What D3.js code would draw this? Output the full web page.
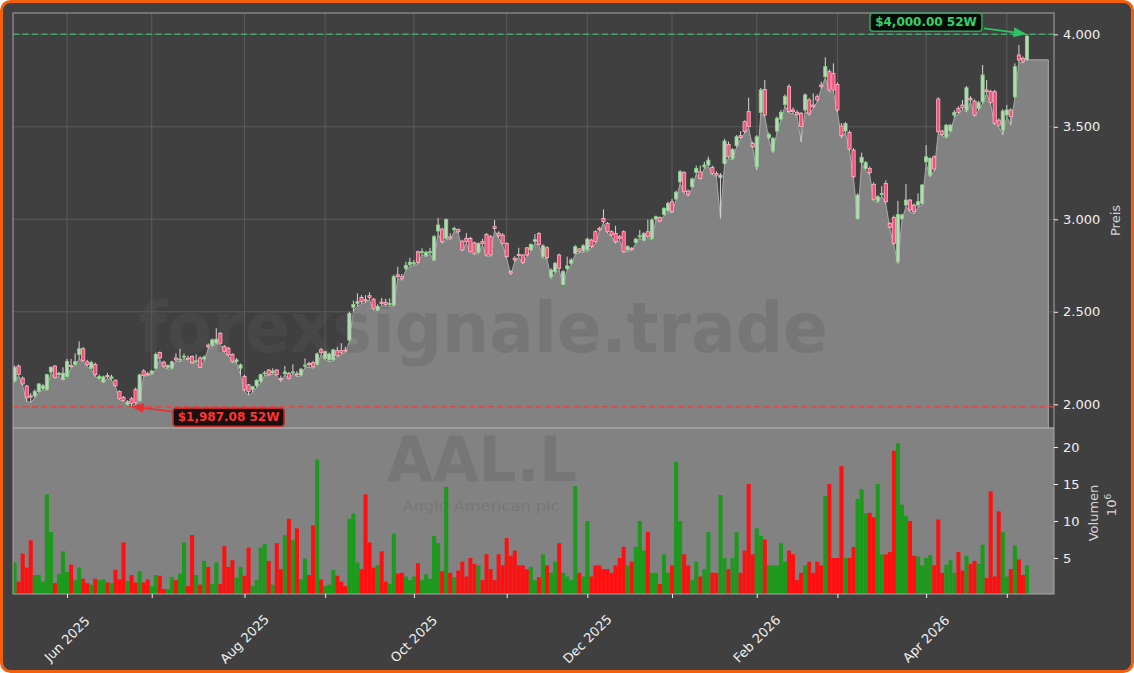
<!DOCTYPE html>
<html><head><meta charset="utf-8">
<script src="https://cdn.jsdelivr.net/npm/d3@7"></script>
<style>html,body{margin:0;padding:0;background:#ffffff;}svg{display:block;}</style>
</head><body>
<svg id="chart" width="1134" height="673"></svg>
<script>
// ---------- DATA ----------
const startDate = "2025-05-13";
const holidays = ["2025-05-26","2025-08-25","2025-12-25","2025-12-26","2026-01-01","2026-04-03","2026-04-06","2026-05-04"];
const opens = [2126,2207,2141,2099,2045,2045,2070,2085,2080,2175,2207,2160,2135,2150,2210,2215,2270,2300,2230,2195,
2215,2140,2120,2155,2140,2130,2069,2038,2000,2030,2080,2018,2180,2165,2165,2195,2280,2228,2200,2195,
2250,2240,2255,2250,2258,2230,2250,2245,2320,2318,2330,2384,2312,2303,2270,2230,2195,2150,2105,2080,
2100,2125,2165,2185,2170,2185,2140,2165,2167,2170,2165,2158,2208,2220,2225,2216,2295,2248,2240,2240,
2290,2290,2293,2347,2525,2545,2578,2565,2587,2568,2510,2552,2550,2540,2536,2700,2690,2735,2755,2760,
2825,2820,2803,2820,2780,2937,2947,2897,2905,2943,2945,2882,2897,2897,2873,2821,2880,2918,2906,2960,
2925,2915,2870,2717,2790,2810,2807,2846,2834,2880,2924,2798,2846,2690,2717,2807,2648,2735,2762,2816,
2840,2829,2834,2888,2933,2951,3005,2978,2933,2924,2906,2933,2834,2843,2875,2906,2888,2933,2897,3001,
3010,3027,3045,3095,3110,3203,3252,3153,3176,3254,3257,3284,3293,3281,3248,3225,3302,3405,3329,3398,
3452,3528,3582,3410,3284,3578,3702,3441,3369,3477,3542,3621,3717,3591,3578,3573,3591,3645,3618,3663,
3726,3771,3798,3789,3729,3504,3477,3470,3374,3005,3308,3275,3275,3189,3099,3135,3194,2978,3010,2771,
3005,3077,3104,3077,3077,3086,3311,3239,3338,3650,3477,3446,3477,3563,3600,3618,3591,3654,3639,3600,
3636,3699,3690,3690,3536,3482,3564,3591,3663,3888,3870,3862];
const highs = [2210,2215,2150,2105,2060,2080,2115,2110,2165,2205,2212,2175,2200,2245,2245,2275,2340,2310,2240,2235,
2225,2160,2155,2170,2160,2135,2075,2045,2022,2040,2090,2165,2190,2175,2185,2280,2285,2235,2215,2235,
2275,2300,2275,2265,2265,2270,2260,2265,2330,2355,2411,2390,2320,2310,2275,2250,2220,2160,2110,2100,
2135,2165,2180,2190,2195,2190,2155,2207,2175,2216,2180,2195,2248,2230,2235,2280,2305,2290,2280,2300,
2310,2330,2310,2500,2560,2600,2590,2590,2605,2575,2540,2575,2570,2573,2700,2743,2705,2770,2792,2780,
2830,2843,2830,2846,2915,3008,2955,3005,2925,2960,2950,2890,2925,2905,2880,2875,2895,2925,2915,2996,
2935,2925,2875,2725,2800,2846,2812,2850,2870,2920,2930,2865,2855,2735,2770,2815,2725,2798,2790,2860,
2845,2865,2900,2895,2940,2960,3054,2985,2940,2965,2915,2940,2860,2850,2900,2942,2930,2999,3005,3020,
3015,3065,3095,3110,3155,3265,3260,3160,3225,3290,3290,3311,3338,3290,3260,3250,3435,3420,3385,3455,
3477,3535,3657,3420,3455,3710,3753,3470,3445,3555,3590,3675,3730,3605,3590,3580,3681,3655,3681,3675,
3744,3875,3810,3843,3740,3520,3525,3480,3385,3140,3360,3315,3285,3200,3130,3180,3210,2985,3020,3100,
3030,3190,3110,3085,3140,3190,3401,3335,3345,3660,3485,3515,3515,3590,3610,3645,3720,3665,3648,3640,
3834,3753,3700,3700,3545,3595,3618,3600,3843,3942,3880,4000];
const lows = [2120,2155,2100,2015,2010,2035,2065,2078,2075,2170,2140,2150,2130,2145,2195,2210,2245,2230,2205,2190,
2150,2135,2115,2140,2130,2095,2025,2015,1995,1987.08,2000,2015,2150,2155,2160,2190,2240,2200,2190,2190,
2235,2230,2245,2240,2220,2225,2195,2235,2300,2312,2325,2325,2280,2262,2225,2225,2160,2070,2050,2065,
2090,2115,2155,2155,2165,2155,2122,2160,2135,2165,2150,2152,2200,2200,2195,2210,2270,2240,2230,2235,
2255,2270,2280,2340,2505,2530,2545,2550,2565,2510,2505,2535,2530,2530,2530,2680,2670,2725,2745,2750,
2760,2810,2798,2815,2775,2925,2870,2890,2890,2935,2925,2828,2870,2820,2810,2815,2860,2800,2800,2940,
2900,2860,2790,2700,2770,2795,2760,2800,2828,2870,2860,2790,2785,2680,2710,2725,2645,2725,2755,2810,
2820,2822,2828,2845,2870,2935,2980,2925,2908,2870,2888,2820,2828,2830,2870,2900,2882,2900,2890,2995,
2985,3020,3040,3035,3105,3195,3140,3125,3170,3245,3215,3275,3285,3240,3230,3005,3295,3330,3320,3390,
3435,3465,3495,3385,3266,3570,3555,3430,3360,3470,3535,3612,3575,3570,3555,3419,3585,3560,3600,3635,
3705,3765,3690,3690,3580,3440,3470,3370,3220,2998,3300,3265,3240,3100,3090,3125,3085,2950,2860,2762,
2995,3070,3040,3030,3065,3080,3300,3230,3262,3465,3450,3440,3470,3550,3570,3595,3580,3635,3555,3590,
3625,3680,3620,3510,3500,3455,3555,3509,3655,3850,3845,3862];
const closes = [2200,2162,2110,2035,2040,2070,2110,2100,2160,2200,2146,2168,2168,2232,2205,2230,2300,2235,2215,2225,
2160,2150,2148,2150,2148,2100,2030,2020,2015,2005,2010,2159,2155,2160,2180,2270,2250,2205,2210,2230,
2240,2245,2260,2245,2225,2235,2200,2255,2310,2348,2352,2330,2285,2267,2231,2240,2213,2078,2069,2095,
2130,2160,2170,2160,2180,2160,2135,2175,2140,2175,2160,2190,2212,2215,2203,2272,2280,2284,2272,2294,
2262,2280,2290,2491,2540,2555,2555,2560,2577,2518,2530,2545,2540,2545,2690,2690,2680,2750,2768,2765,
2767,2825,2822,2825,2906,2969,2879,2999,2898,2951,2933,2834,2880,2825,2816,2870,2870,2807,2807,2951,
2910,2870,2798,2710,2780,2805,2767,2807,2864,2890,2864,2857,2792,2726,2762,2735,2717,2748,2780,2852,
2826,2857,2893,2852,2879,2942,2987,2933,2915,2879,2897,2825,2852,2836,2893,2911,2924,2906,2996,3014,
2991,3059,3086,3041,3146,3257,3149,3135,3218,3275,3221,3293,3320,3248,3239,3239,3423,3338,3378,3446,
3442,3474,3501,3392,3446,3699,3564,3459,3437,3546,3578,3663,3582,3582,3566,3501,3672,3573,3609,3645,
3717,3825,3699,3699,3591,3452,3517,3380,3230,3131,3335,3306,3252,3108,3122,3140,3095,2956,2870,3026,
3023,3104,3050,3041,3095,3185,3338,3329,3272,3473,3459,3509,3509,3578,3578,3603,3711,3645,3563,3630,
3780,3690,3632,3518,3509,3585,3591,3555,3825,3861,3855,3990];
const volumes = [4.4,1.8,5.6,3.7,7.4,2.7,2.7,1.8,13.6,8.5,1.6,2.8,5.9,3.1,4.1,2.0,3.7,2.2,1.6,1.4,
2.2,2.0,2.1,1.7,1.6,3.4,2.1,7.1,1.9,2.7,1.7,3.2,1.7,2.1,1.2,2.7,2.6,0.8,0.8,2.4,
2.0,2.9,7.1,1.2,8.1,2.7,1.4,4.6,3.8,1.5,4.4,1.5,6.6,3.8,4.7,2.3,3.8,2.6,6.4,1.2,
2.0,6.4,6.9,4.6,1.4,7.0,3.5,8.1,10.3,7.4,9.0,2.1,4.9,2.7,9.4,18.3,2.1,1.2,1.4,3.4,
2.6,1.8,1.2,10.3,11.0,4.4,3.5,13.6,7.1,3.7,4.0,5.9,1.8,1.5,8.3,2.9,3.0,2.5,2.0,2.5,
4.3,2.0,2.8,2.2,8.0,7.0,3.2,14.6,3.0,2.4,3.3,4.5,2.5,5.0,4.2,4.0,2.0,5.5,3.5,2.0,
5.5,4.0,7.7,5.3,6.0,4.0,4.0,3.5,3.8,2.0,2.4,5.5,4.0,3.0,4.5,7.0,3.0,2.5,2.0,14.7,
3.0,2.5,10.0,2.5,4.0,4.0,3.5,3.5,3.0,4.0,5.0,6.5,4.0,4.5,6.5,10.0,6.0,8.5,3.0,3.0,
1.5,5.5,3.0,4.0,18.0,10.0,5.5,4.0,2.0,4.5,2.5,3.5,8.5,3.0,3.0,13.5,5.0,3.5,5.0,8.5,
3.0,6.0,15.0,5.5,9.0,8.0,7.5,4.0,4.0,4.0,7.0,4.5,6.0,5.5,2.0,3.0,4.0,4.5,3.0,4.5,
4.0,13.4,15.0,5.0,5.0,17.4,5.0,5.0,6.5,13.0,14.3,11.0,11.1,10.5,15.0,5.5,5.5,5.8,19.5,20.5,
12.2,10.7,10.0,5.3,5.2,4.0,5.0,5.4,4.0,10.2,3.0,4.1,4.7,3.0,5.8,3.3,5.3,4.2,4.6,4.2,
6.8,2.3,14.0,2.5,11.3,8.5,2.5,3.5,6.7,4.8,2.7,4.0];
const priceTicks = [2000, 2500, 3000, 3500, 4000];
const volumeTicks = [5, 10, 15, 20];
const high52 = 4000.00, low52 = 1987.08;
const high52Index = 251, low52Index = 29;
const ticker = "AAL.L", company = "Anglo American plc", brand = "forexsignale.trade";
const priceLabel = "Preis", volumeLabel = "Volumen", volumeUnit = "10";

// ---------- LAYOUT ----------
const W = 1134, H = 673;
const L = 13, R = 1054, PT = 13, PB = 428, VB = 594;
const svg = d3.select("#chart");
const BG = "#404040", FILLG = "#828282";

// trading calendar
const hol = new Set(holidays);
const parse = d3.utcParse("%Y-%m-%d"), fmtD = d3.utcFormat("%Y-%m-%d");
const dates = [];
let d = parse(startDate);
while (dates.length < closes.length) {
  const wd = d.getUTCDay();
  if (wd !== 0 && wd !== 6 && !hol.has(fmtD(d))) dates.push(new Date(d));
  d = d3.utcDay.offset(d, 1);
}
const data = closes.map((c, i) => ({i, date: dates[i], o: opens[i], h: highs[i], l: lows[i], c, v: volumes[i]}));

const x = d3.scaleLinear().domain([-0.4, 257.7]).range([L, R]);
const y = d3.scaleLinear().domain([2000, 4000]).range([404.3, 34.3]);
const yv = d3.scaleLinear().domain([0, 20]).range([595, 447]);

// month ticks
const monthTicks = [];
for (let i = 1; i < dates.length; i++) if (dates[i].getUTCMonth() !== dates[i-1].getUTCMonth()) monthTicks.push(i);

// background + frame
svg.append("rect").attr("x",1.5).attr("y",1.5).attr("width",W-3).attr("height",H-3).attr("rx",9)
  .attr("fill",BG).attr("stroke","#f2600e").attr("stroke-width",3);

const defs = svg.append("defs");
defs.append("clipPath").attr("id","cp").append("rect").attr("x",L).attr("y",PT).attr("width",R-L).attr("height",PB-PT);
defs.append("clipPath").attr("id","cv").append("rect").attr("x",L).attr("y",PB).attr("width",R-L).attr("height",VB-PB);
function marker(id, col){
  defs.append("marker").attr("id",id).attr("viewBox","0 0 10 10").attr("refX",9).attr("refY",5)
    .attr("markerWidth",7).attr("markerHeight",7).attr("orient","auto-start-reverse")
    .append("path").attr("d","M0,1 L10,5 L0,9 z").attr("fill",col);
}
marker("ag","#2fc463"); marker("ar","#e63232");

// grid (price panel)
const gp = svg.append("g").attr("clip-path","url(#cp)");
gp.selectAll(".vg").data(monthTicks).join("line").attr("x1",i=>x(i)).attr("x2",i=>x(i))
  .attr("y1",PT).attr("y2",PB).attr("stroke","#5e5e5e").attr("stroke-width",0.9);
gp.selectAll(".hg").data(priceTicks).join("line").attr("x1",L).attr("x2",R)
  .attr("y1",v=>y(v)).attr("y2",v=>y(v)).attr("stroke","#5e5e5e").attr("stroke-width",0.9);

// filled low area
const fillPts = [{i:-0.4, l: lows[0]}].concat(data.map(p=>({i:p.i,l:p.l}))).concat([{i:256.3, l: lows[lows.length-1]}]);
const area = d3.area().x(p=>x(p.i)).y0(PB).y1(p=>y(p.l));
gp.append("path").datum(fillPts).attr("d",area).attr("fill",FILLG);
gp.append("path").datum(fillPts).attr("d",d3.line().x(p=>x(p.i)).y(p=>y(p.l))).attr("fill","none").attr("stroke","#a9a9a9").attr("stroke-width",1);
gp.append("line").attr("x1",x(256.3)).attr("x2",x(256.3)).attr("y1",y(lows[lows.length-1])).attr("y2",PB).attr("stroke","#a9a9a9").attr("stroke-width",1);

// volume panel background
svg.append("rect").attr("x",L).attr("y",PB).attr("width",R-L).attr("height",VB-PB).attr("fill",FILLG);

// watermarks
const wmFill = "rgba(88,88,88,0.28)";
svg.append("text").attr("x",483).attr("y",352).attr("text-anchor","middle")
  .attr("font-family","DejaVu Sans").attr("font-weight","bold").attr("font-size",70)
  .attr("textLength",690).attr("lengthAdjust","spacingAndGlyphs").attr("fill",wmFill).text(brand);
svg.append("text").attr("x",482).attr("y",481).attr("text-anchor","middle")
  .attr("font-family","DejaVu Sans").attr("font-weight","bold").attr("font-size",62)
  .attr("textLength",190).attr("lengthAdjust","spacingAndGlyphs").attr("fill",wmFill).text(ticker);
svg.append("text").attr("x",481).attr("y",511).attr("text-anchor","middle")
  .attr("font-family","DejaVu Sans").attr("font-size",14)
  .attr("textLength",157).attr("lengthAdjust","spacingAndGlyphs").attr("fill",wmFill).text(company);

// candles
const gc = svg.append("g").attr("clip-path","url(#cp)");
gc.selectAll(".wick").data(data).join("line").attr("x1",p=>x(p.i)).attr("x2",p=>x(p.i))
  .attr("y1",p=>y(p.h)).attr("y2",p=>y(p.l)).attr("stroke","#d6d6d6").attr("stroke-width",1);
gc.selectAll(".body").data(data).join("rect")
  .attr("x",p=>x(p.i)-1.6).attr("width",3.2)
  .attr("y",p=>y(Math.max(p.o,p.c))).attr("height",p=>Math.max(1,Math.abs(y(p.o)-y(p.c))))
  .attr("fill",p=>p.c>=p.o?"#c4cfc4":"#f0527a")
  .attr("stroke",p=>p.c>=p.o?"#80d880":"#ffb6c6").attr("stroke-width",0.8);

// 52w lines
svg.append("line").attr("x1",L).attr("x2",R).attr("y1",y(high52)).attr("y2",y(high52))
  .attr("stroke","#3cb36c").attr("stroke-width",1.4).attr("stroke-dasharray","6,3.5").attr("opacity",0.9);
svg.append("line").attr("x1",L).attr("x2",R).attr("y1",y(low52)).attr("y2",y(low52))
  .attr("stroke","#e04444").attr("stroke-width",1.4).attr("stroke-dasharray","6,3.5").attr("opacity",0.9);

// volume bars
const gv = svg.append("g").attr("clip-path","url(#cv)");
gv.selectAll(".vb").data(data).join("rect").attr("x",p=>x(p.i)-2).attr("width",4.03)
  .attr("y",p=>yv(p.v)).attr("height",p=>yv(0)-yv(p.v))
  .attr("fill",p=>p.c>=p.o?"#1c9a1c":"#ff1010");

// spines
svg.append("rect").attr("x",L).attr("y",PT).attr("width",R-L).attr("height",VB-PT).attr("fill","none").attr("stroke","#a6a6a6").attr("stroke-width",1);
svg.append("line").attr("x1",L).attr("x2",R).attr("y1",PB).attr("y2",PB).attr("stroke","#a6a6a6").attr("stroke-width",1.5);

// axes
const de = d3.formatLocale({decimal:",", thousands:".", grouping:[3], currency:["","€"]});
const fmtP = de.format(",.0f");
function styleAxis(g){
  g.select(".domain").remove();
  g.selectAll("line").attr("stroke","#f0f0f0");
  g.selectAll("text").attr("fill","#f0f0f0").attr("font-family","DejaVu Sans").attr("font-size",13);
}
svg.append("g").attr("transform",`translate(${R},0)`).call(d3.axisRight(y).tickValues(priceTicks).tickFormat(fmtP).tickSize(4).tickPadding(5)).call(styleAxis);
svg.append("g").attr("transform",`translate(${R},0)`).call(d3.axisRight(yv).tickValues(volumeTicks).tickFormat(d3.format("d")).tickSize(4).tickPadding(5)).call(styleAxis);
svg.append("g").attr("transform",`translate(0,${VB})`).call(d3.axisBottom(x).tickValues(monthTicks).tickFormat("").tickSize(4)).call(styleAxis);

const fmtM = d3.utcFormat("%b %Y");
svg.selectAll(".xl").data(monthTicks.filter(i=>dates[i].getUTCMonth()%2===1)).join("text")
  .attr("transform",i=>`translate(${x(i)},639) rotate(-45)`).attr("text-anchor","middle").attr("dominant-baseline","central")
  .attr("fill","#f0f0f0").attr("font-family","DejaVu Sans").attr("font-size",13).text(i=>fmtM(dates[i]));

// axis labels
svg.append("text").attr("transform",`translate(1120,${(PT+PB)/2}) rotate(-90)`).attr("text-anchor","middle")
  .attr("fill","#d4d4d4").attr("font-family","DejaVu Sans").attr("font-size",13).text(priceLabel);
svg.append("text").attr("transform",`translate(1098,513) rotate(-90)`).attr("text-anchor","middle")
  .attr("fill","#d4d4d4").attr("font-family","DejaVu Sans").attr("font-size",13).text(volumeLabel);
const u = svg.append("text").attr("transform",`translate(1116,505) rotate(-90)`).attr("text-anchor","middle")
  .attr("fill","#d4d4d4").attr("font-family","DejaVu Sans").attr("font-size",13);
u.append("tspan").text(volumeUnit);
u.append("tspan").attr("dy",-5).attr("font-size",9).text("6");

// annotations
const fmtUS = d3.format(",.2f");
function label(txt, cx, cy, w, col, border, bg){
  svg.append("rect").attr("x",cx-w/2).attr("y",cy-9).attr("width",w).attr("height",18).attr("rx",3)
    .attr("fill",bg).attr("stroke",border).attr("stroke-width",1.5);
  svg.append("text").attr("x",cx).attr("y",cy).attr("text-anchor","middle").attr("dominant-baseline","central")
    .attr("fill",col).attr("font-family","DejaVu Sans").attr("font-weight","bold").attr("font-size",12).text(txt);
}
// high
const hx = x(high52Index), hy = y(high52);
svg.append("line").attr("x1",hx-43).attr("y1",hy-6).attr("x2",hx-2).attr("y2",hy-0.5)
  .attr("stroke","#2fc463").attr("stroke-width",1.8).attr("marker-end","url(#ag)");
label("$" + fmtUS(high52) + " 52W", hx-101, hy-12, 112, "#35d36a", "#2aa85a", "#070b08");
// low
const lx = x(low52Index), ly = y(low52);
svg.append("line").attr("x1",lx+41).attr("y1",ly+5).attr("x2",lx+1).attr("y2",ly)
  .attr("stroke","#e63232").attr("stroke-width",1.8).attr("marker-end","url(#ar)");
label("$" + fmtUS(low52) + " 52W", lx+97, ly+10.5, 111, "#ff3434", "#c42a2a", "#1a0f0f");
</script>
</body></html>
